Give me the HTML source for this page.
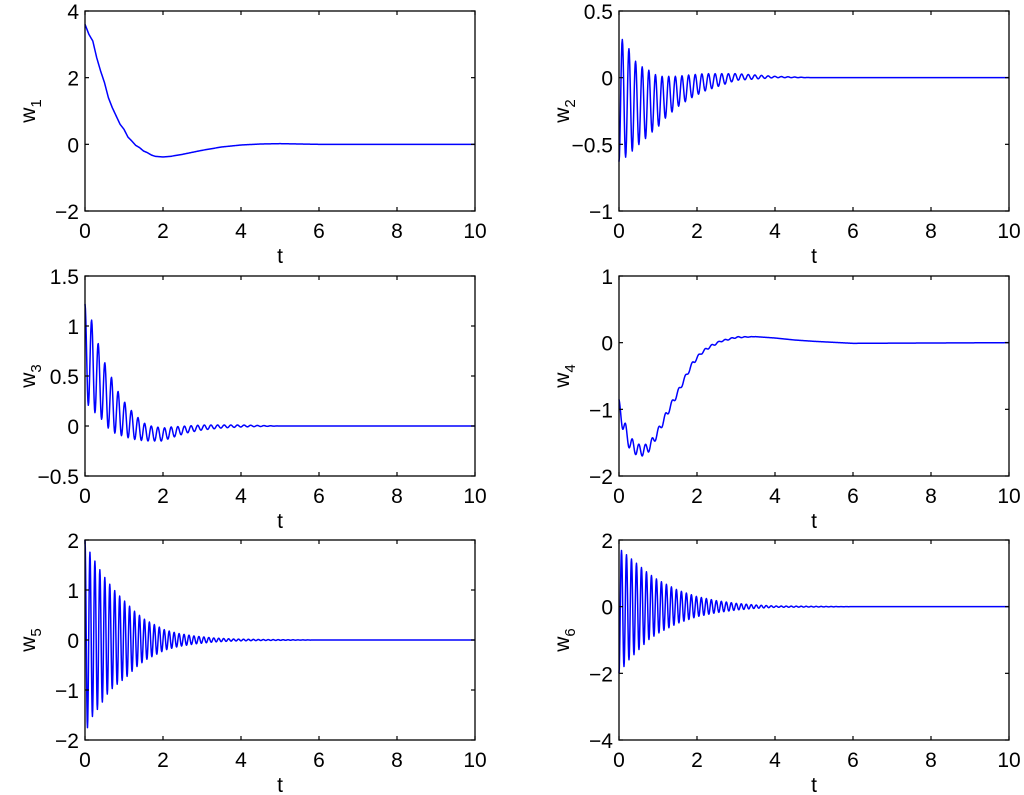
<!DOCTYPE html>
<html><head><meta charset="utf-8">
<style>
html,body{margin:0;padding:0;background:#fff;}
svg{display:block;font-family:"Liberation Sans",Arial,sans-serif;}
</style></head>
<body>
<svg id="fig" width="1024" height="795" viewBox="0 0 1024 795" xmlns="http://www.w3.org/2000/svg"></svg>
<script>
// ---- data ----
const xTicks = [0,2,4,6,8,10];
const yTicks1 = [-2,0,2,4];
const yTicks2 = [-1,-0.5,0,0.5];
const yTicks3 = [-0.5,0,0.5,1,1.5];
const yTicks4 = [-2,-1,0,1];
const yTicks5 = [-2,-1,0,1,2];
const yTicks6 = [-4,-2,0,2];

const w1T = [0,0.1,0.2,0.3,0.4,0.5,0.6,0.7,0.8,0.9,1.0,1.1,1.2,1.3,1.4,1.5,1.6,1.7,1.8,2.0,2.2,2.5,3,3.5,4,4.5,5,6,10];
const w1V = [3.6,3.3,3.1,2.6,2.2,1.85,1.4,1.1,0.85,0.6,0.45,0.22,0.1,-0.03,-0.1,-0.2,-0.25,-0.32,-0.36,-0.38,-0.36,-0.3,-0.18,-0.08,-0.02,0.01,0.02,0,0];

const w2T = [0,0.25,0.43,0.6,0.8,1.0,1.2,1.5,1.8,2.2,2.7,3.0,3.5,4,5,6,10];
const w2Up = [0.32,0.22,0.12,0.08,0.05,0.01,0.01,0.01,0.02,0.03,0.03,0.03,0.02,0.01,0,0,0];
const w2Lo = [-0.63,-0.58,-0.52,-0.48,-0.42,-0.37,-0.3,-0.22,-0.16,-0.1,-0.05,-0.02,-0.01,0,0,0,0];

const w3T = [0,0.2,0.37,0.54,0.7,0.88,1.05,1.2,1.37,1.55,1.7,2.0,2.2,2.6,3.0,3.5,4,5,6,10];
const w3Up = [1.22,1.03,0.78,0.6,0.47,0.32,0.22,0.15,0.08,0.02,0.0,-0.02,-0.01,0.0,0.01,0.01,0.01,0,0,0];
const w3Lo = [0.25,0.15,0.1,0.0,-0.06,-0.09,-0.11,-0.13,-0.14,-0.15,-0.15,-0.15,-0.12,-0.07,-0.04,-0.02,-0.01,0,0,0];

const w4T = [0,0.1,0.2,0.3,0.45,0.6,0.75,0.9,1.05,1.2,1.35,1.5,1.7,1.9,2.1,2.3,2.6,3.0,3.5,4.0,4.5,5,6,10];
const w4Up = [-0.85,-1.08,-1.28,-1.42,-1.51,-1.54,-1.51,-1.39,-1.23,-1.05,-0.88,-0.72,-0.49,-0.27,-0.14,-0.05,0.03,0.09,0.09,0.07,0.04,0.02,-0.01,0];
const w4Lo = [-1.05,-1.32,-1.52,-1.62,-1.69,-1.7,-1.65,-1.51,-1.33,-1.15,-0.96,-0.8,-0.55,-0.33,-0.18,-0.09,0.01,0.07,0.09,0.07,0.04,0.02,-0.01,0];

const w5T = [0,0.13,0.26,0.4,0.55,0.7,0.8,1.05,1.3,1.55,1.8,2.05,2.4,2.8,3.3,3.8,4.5,6,10];
const w5Up = [2.0,1.75,1.57,1.38,1.2,1.05,0.95,0.75,0.55,0.4,0.3,0.2,0.13,0.08,0.04,0.02,0.01,0,0];
const w5Lo = [-1.9,-1.6,-1.45,-1.3,-1.1,-0.97,-0.9,-0.75,-0.55,-0.4,-0.3,-0.2,-0.13,-0.08,-0.04,-0.02,-0.01,0,0];

const w6T = [0,0.25,0.5,0.75,1,1.5,2,2.5,3,3.5,4,5,6,10];
const w6Up = [1.75,1.5,1.25,1.0,0.8,0.5,0.3,0.18,0.1,0.05,0.02,0.01,0,0];
const w6Lo = [-2.0,-1.6,-1.3,-1.0,-0.8,-0.5,-0.3,-0.18,-0.1,-0.05,-0.02,-0.01,0,0];

const periods = [0, 0.17, 0.17, 0.17, 0.127, 0.128];
const phases = [0, 0.5, 0, 0, 0, 0.5];

// ---- layout ----
const NS = "http://www.w3.org/2000/svg";
const svg = document.getElementById('fig');
const cols = [85, 619], W = 390, H = 200;
const rows = [11, 276, 540];
function mk(tag, attrs, parent){ const e=document.createElementNS(NS,tag); for(const k in attrs) e.setAttribute(k,attrs[k]); (parent||svg).appendChild(e); return e; }
function interp(ts, vs, t){ if(t<=ts[0]) return vs[0]; for(let i=1;i<ts.length;i++){ if(t<=ts[i]){ const f=(t-ts[i-1])/(ts[i]-ts[i-1]); return vs[i-1]+f*(vs[i]-vs[i-1]); } } return vs[vs.length-1]; }
function fmt(v){ return (v<0?'\u2212':'')+String(Math.abs(v)); }

const panels = [
 {yt:yTicks1, name:'1', kind:'line', t:w1T, v:w1V},
 {yt:yTicks2, name:'2', kind:'osc', t:w2T, up:w2Up, lo:w2Lo},
 {yt:yTicks3, name:'3', kind:'osc', t:w3T, up:w3Up, lo:w3Lo},
 {yt:yTicks4, name:'4', kind:'osc', t:w4T, up:w4Up, lo:w4Lo},
 {yt:yTicks5, name:'5', kind:'osc', t:w5T, up:w5Up, lo:w5Lo},
 {yt:yTicks6, name:'6', kind:'osc', t:w6T, up:w6Up, lo:w6Lo}
];

panels.forEach((p, i) => {
  const L = cols[i%2], T = rows[Math.floor(i/2)];
  const ymin = p.yt[0], ymax = p.yt[p.yt.length-1];
  const xs = t => L + t/10*W;
  const ys = v => T + H - (v-ymin)/(ymax-ymin)*H;
  const g = mk('g', {});
  
  
  const pts = [];
  if (p.kind==='line') {
    for (let t=0; t<=10.0001; t+=0.02) pts.push([xs(t), ys(interp(p.t,p.v,t))]);
  } else {
    const per = periods[i];
    for (let t=0; t<=10.0001; t+=per/16) {
      const u = interp(p.t,p.up,t), l = interp(p.t,p.lo,t);
      const v = (u+l)/2 + (u-l)/2*Math.cos(2*Math.PI*(t/per + phases[i]));
      pts.push([xs(t), ys(v)]);
    }
  }
  const path = mk('polyline', {points: pts.map(q=>q[0].toFixed(2)+','+q[1].toFixed(2)).join(' '), fill:'none', stroke:'#0000ff', 'stroke-width':1.5, 'stroke-linejoin':'round'}, g);
  
  
  const box = mk('rect', {x:L, y:T, width:W, height:H, fill:'none', stroke:'#000', 'stroke-width':1.3}, g);
  
  
  xTicks.forEach(v => {
    const x = xs(v);
    mk('line', {x1:x, y1:T+H, x2:x, y2:T+H-4, stroke:'#000', 'stroke-width':1.2}, g);
    mk('line', {x1:x, y1:T, x2:x, y2:T+4, stroke:'#000', 'stroke-width':1.2}, g);
    const tx = mk('text', {x:x, y:T+H+27, 'font-size':21, 'text-anchor':'middle'}, g);
    tx.textContent = String(v);
    
    
  });
  p.yt.forEach(v => {
    const y = ys(v);
    mk('line', {x1:L, y1:y, x2:L+4, y2:y, stroke:'#000', 'stroke-width':1.2}, g);
    mk('line', {x1:L+W, y1:y, x2:L+W-4, y2:y, stroke:'#000', 'stroke-width':1.2}, g);
    const ty = mk('text', {x:L-6, y:y+8, 'font-size':21, 'text-anchor':'end'}, g);
    ty.textContent = fmt(v);
    
    
  });
  const xl = mk('text', {x:L+W/2, y:T+H+52, 'font-size':21, 'text-anchor':'middle'}, g);
  xl.textContent = 't';
  
  
  const cx = L - 50, cy = T + H/2;
  const yl = mk('text', {x:cx, y:cy, 'font-size':21, 'text-anchor':'middle', transform:'rotate(-90 '+cx+' '+cy+')'}, g);
  yl.innerHTML = 'w<tspan font-size="15" dy="6">'+p.name+'</tspan>';
  
  
});
</script>
</body></html>
